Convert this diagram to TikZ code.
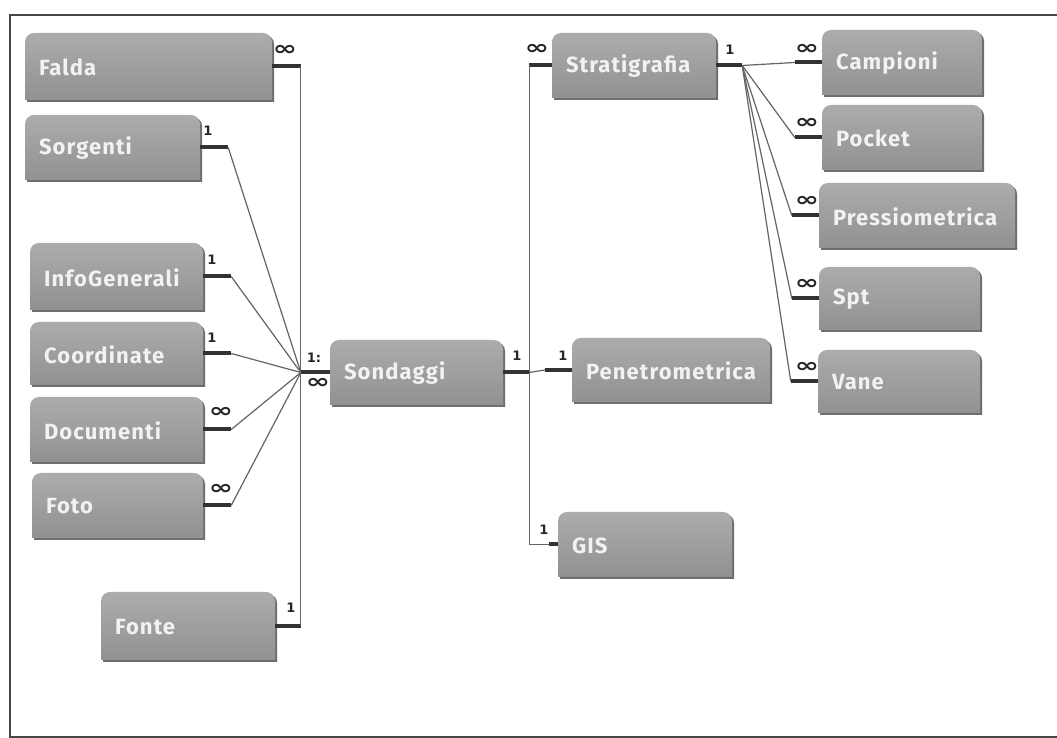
\documentclass[tikz,border=0pt]{standalone}
\usepackage{fontspec}
\setmainfont{Fira Sans}
\newfontfamily\entfont[LetterSpace=5]{Fira Sans}
\newfontfamily\symfont{DejaVu Sans}
\usetikzlibrary{calc}
\definecolor{boxtop}{RGB}{172,172,172}
\definecolor{boxbot}{RGB}{145,145,145}
\definecolor{boxshade}{RGB}{110,110,110}
\definecolor{boxtext}{RGB}{242,242,242}
\definecolor{linec}{RGB}{100,100,100}
\definecolor{stubc}{RGB}{50,50,50}
\definecolor{framec}{RGB}{70,70,70}
\newcommand\infsym{\scalebox{1.45}[1]{∞}}
\tikzset{
 boxface/.style={top color=boxtop, bottom color=boxbot, draw=none},
 boxshadow/.style={fill=boxshade},
 enttext/.style={anchor=west, inner sep=0pt, text=boxtext, font=\entfont\bfseries\fontsize{22}{26}\selectfont},
 boxarea/.style={inner sep=0pt, draw=none},
 conn/.style={draw=linec, line width=1.2pt},
 stub/.style={draw=stubc, line width=4pt},
 card/.style={inner sep=0pt, font=\symfont\bfseries\fontsize{13}{14}\selectfont, text=black!85},
 many/.style={inner sep=0pt, font=\symfont\bfseries\fontsize{20}{20}\selectfont, text=black!85},
 frameline/.style={draw=framec, line width=1.2pt}
}
\newcommand\ebox[6]{%
 \fill[boxshadow] (#2+2,#5-2) -- (#2+2,#3-9-2) arc[start angle=180,end angle=90,radius=9] -- (#4+2-9,#3-2) arc[start angle=90,end angle=0,radius=9] -- (#4+2,#5-2) -- cycle;
 \shade[boxface] (#2,#5) -- (#2,#3-9) arc[start angle=180,end angle=90,radius=9] -- (#4-9,#3) arc[start angle=90,end angle=0,radius=9] -- (#4,#5) -- cycle;
 \node[boxarea, minimum width={(#4-#2)*1pt}, minimum height={(#3-#5)*1pt}] (#1) at ({(#2+#4)/2},{(#3+#5)/2}) {};
 \node[enttext] (#1-t) at ([xshift=14pt,yshift=-1pt]#1.west) {#6};
}
\begin{document}
\begin{tikzpicture}[x=1pt,y=1pt]
\useasboundingbox (0,0) rectangle (1057,738);
\fill[white] (0,0) rectangle (1057,738);
\draw[frameline] (1057,723) -- (10,723) -- (10,1) -- (1057,1);

% entities: name, x1, ytop, x2, ybot, text
\ebox{falda}{25}{705}{272}{638}{Falda}
\ebox{sorgenti}{25}{623}{200}{558}{Sorgenti}
\ebox{info}{30}{495}{203}{428}{InfoGenerali}
\ebox{coord}{30}{416}{203}{353}{Coordinate}
\ebox{doc}{30}{341}{203}{276}{Documenti}
\ebox{foto}{32}{265}{203}{200}{Foto}
\ebox{fonte}{101}{146}{275}{78}{Fonte}
\ebox{sond}{330}{398}{503}{333}{Sondaggi}
\ebox{strat}{552}{705}{716}{640}{Stratigrafia}
\ebox{pen}{572}{400}{770}{336}{Penetrometrica}
\ebox{gis}{558}{226}{732}{161}{GIS}
\ebox{camp}{822}{708}{982}{643}{Campioni}
\ebox{pock}{822}{633}{982}{568}{Pocket}
\ebox{press}{819}{555}{1015}{490}{Pressiometrica}
\ebox{spt}{819}{471}{980}{408}{Spt}
\ebox{vane}{818}{388}{980}{325}{Vane}

% left hub
\coordinate (hubL) at ([xshift=-29pt]sond.west);
\draw[stub] (sond.west) -- (hubL);
\draw[stub] (falda.east) -- (falda.east -| hubL);
\draw[stub] (fonte.east) -- (fonte.east -| hubL);
\draw[conn] (falda.east -| hubL) -- (fonte.east -| hubL);
\foreach \n in {sorgenti,info,coord,doc,foto}{
  \draw[stub] (\n.east) -- ([xshift=28pt]\n.east);
  \draw[conn] ([xshift=28pt]\n.east) -- (hubL);
}

% right of Sondaggi
\coordinate (vR) at ([xshift=26pt]sond.east);
\draw[stub] (sond.east) -- (vR);
\draw[stub] (strat.west) -- (strat.west -| vR);
\draw[conn] (strat.west -| vR) -- (gis.west -| vR) -- ([xshift=-9pt]gis.west);
\draw[stub] ([xshift=-9pt]gis.west) -- (gis.west);
\draw[conn] (vR) -- ([xshift=-27pt]pen.west);
\draw[stub] ([xshift=-27pt]pen.west) -- (pen.west);

% Stratigrafia children
\coordinate (hubR) at ([xshift=26pt]strat.east);
\draw[stub] (strat.east) -- (hubR);
\foreach \n in {camp,pock,press,spt,vane}{
  \draw[conn] (hubR) -- ([xshift=-27pt]\n.west);
  \draw[stub] ([xshift=-27pt]\n.west) -- (\n.west);
}

% cardinalities
\node[many] (l1) at (285,688) {\infsym};
\node[card] (l2) at (208,607) {1};
\node[card] (l3) at (212,478) {1};
\node[card] (l4) at (212,400) {1};
\node[many] (l5) at (221,326) {\infsym};
\node[many] (l6) at (221,249) {\infsym};
\node[card] (l7) at (291,130) {1};
\node[card] (l8) at (314,380) {1:};
\node[many] (l9) at (318,355) {\infsym};
\node[card] (l10) at (517,382) {1};
\node[card] (l11) at (563,382) {1};
\node[card] (l12) at (544,208) {1};
\node[many] (l13) at (537,689) {\infsym};
\node[card] (l14) at (730,688) {1};
\node[many] (l15) at (807,689) {\infsym};
\node[many] (l16) at (807,615) {\infsym};
\node[many] (l17) at (807,537) {\infsym};
\node[many] (l18) at (807,454) {\infsym};
\node[many] (l19) at (807,371) {\infsym};
\end{tikzpicture}
\end{document}
